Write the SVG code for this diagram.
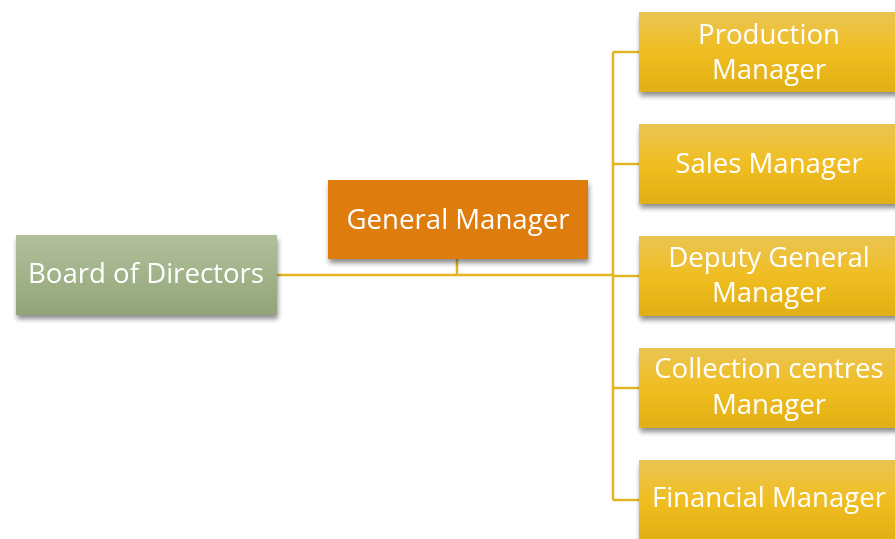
<svg xmlns="http://www.w3.org/2000/svg" width="895" height="539" viewBox="0 0 895 539">
<defs>
<linearGradient id="gGreen" x1="0" y1="0" x2="0" y2="1">
<stop offset="0" stop-color="#B1BF9C"/>
<stop offset="0.5" stop-color="#A2B38A"/>
<stop offset="1" stop-color="#92A57A"/>
</linearGradient>
<linearGradient id="gGold" x1="0" y1="0" x2="0" y2="1">
<stop offset="0" stop-color="#EAC452"/>
<stop offset="0.5" stop-color="#F0BE22"/>
<stop offset="1" stop-color="#E1AF12"/>
</linearGradient>
<filter id="sh" x="-10%" y="-10%" width="125%" height="135%">
<feGaussianBlur in="SourceAlpha" stdDeviation="2.5"/>
<feOffset dx="1" dy="4" result="b"/>
<feComponentTransfer><feFuncA type="linear" slope="0.45"/></feComponentTransfer>
<feMerge><feMergeNode/><feMergeNode in="SourceGraphic"/></feMerge>
</filter>
</defs>
<style>
.t{font-family:"Open Sans","Noto Sans","Liberation Sans",sans-serif;font-size:27.6px;fill:#FFFFFF;text-anchor:middle}
.ln{stroke:#E3B522;stroke-width:2.5;fill:none}
.gold{fill:url(#gGold)}
</style>
<g id="connectors">
<path class="ln" d="M277 275 H613"/>
<path class="ln" d="M457 259 V275"/>
<path class="ln" d="M613 52 V500"/>
<path class="ln" d="M613 52 H639 M613 164 H639 M613 276 H639 M613 388 H639 M613 500 H639"/>
</g>
<g id="board" filter="url(#sh)">
<rect x="16" y="235" width="261" height="80" fill="url(#gGreen)"/>
<text class="t" x="146" y="283">Board of Directors</text>
</g>
<g id="general" filter="url(#sh)">
<rect x="328" y="180" width="260" height="79" fill="#DE7C10"/>
<text class="t" x="458" y="229">General Manager</text>
</g>
<g id="production" filter="url(#sh)">
<rect class="gold" x="639" y="12" width="260" height="80"/>
<text class="t" x="769" y="44">Production</text>
<text class="t" x="769" y="79">Manager</text>
</g>
<g id="sales" filter="url(#sh)">
<rect class="gold" x="639" y="124" width="260" height="80"/>
<text class="t" x="769" y="173">Sales Manager</text>
</g>
<g id="deputy" filter="url(#sh)">
<rect class="gold" x="639" y="236" width="260" height="80"/>
<text class="t" x="769" y="267">Deputy General</text>
<text class="t" x="769" y="302">Manager</text>
</g>
<g id="collection" filter="url(#sh)">
<rect class="gold" x="639" y="348" width="260" height="80"/>
<text class="t" x="769" y="378">Collection centres</text>
<text class="t" x="769" y="414">Manager</text>
</g>
<g id="financial" filter="url(#sh)">
<rect class="gold" x="639" y="460" width="260" height="80"/>
<text class="t" x="769" y="507">Financial Manager</text>
</g>
</svg>
